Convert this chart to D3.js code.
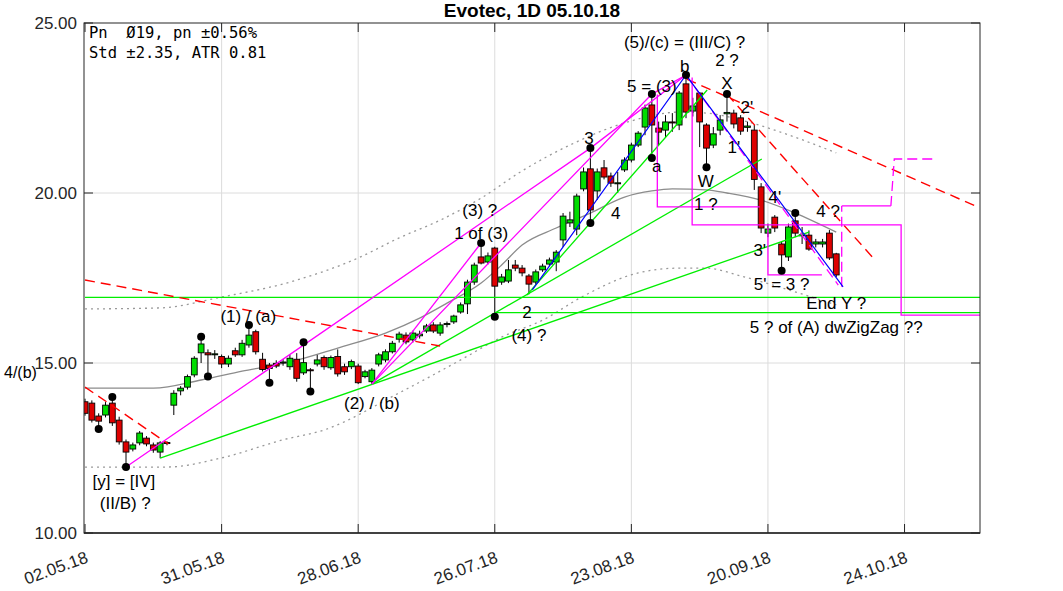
<!DOCTYPE html>
<html><head><meta charset="utf-8">
<script src="https://cdn.jsdelivr.net/npm/d3@7"></script>
<style>body{margin:0;background:#fff}</style>
</head><body><svg id="c" width="1063" height="591"></svg>
<script>
// ---------- data ----------
const title = "Evotec, 1D 05.10.18";
const infoLines = ["Pn  \u00D819, pn \u00B10.56%", "Std \u00B12.35, ATR 0.81"];
const tickIndex = [0, 20, 40, 60, 80, 100, 120];
const tickLabels = ["02.05.18", "31.05.18", "28.06.18", "26.07.18", "23.08.18", "20.09.18", "24.10.18"];
const yTicks = [10, 15, 20, 25];

const opens = [13.86,13.82,13.44,13.47,13.82,13.32,12.68,12.47,12.65,12.79,12.59,12.38,12.64,13.76,14.18,14.29,14.65,15.30,15.30,15.25,
15.19,14.97,15.36,15.24,15.53,15.92,15.11,14.94,14.99,15.00,14.89,15.11,14.71,14.80,14.97,15.16,14.86,15.19,14.89,14.89,
14.91,14.60,14.45,14.97,15.09,15.33,15.70,15.82,15.68,15.80,15.94,16.12,15.88,16.13,16.21,16.50,16.74,17.38,18.12,17.97,
18.38,17.38,17.41,17.88,17.79,17.56,17.38,17.74,17.91,17.97,18.62,19.12,18.94,20.12,20.71,20.06,20.74,20.50,20.28,20.68,
20.97,21.41,21.94,22.59,21.91,21.85,22.09,22.00,23.21,22.41,22.94,22.00,21.41,21.85,22.33,22.35,22.21,21.93,21.85,20.18,
18.82,19.29,18.50,18.12,19.18,18.75,18.76,18.50,18.50,18.82,18.21];
const highs = [13.95,13.90,13.52,13.85,14.00,13.42,12.75,12.66,13.00,12.85,12.66,12.70,12.70,14.20,14.32,14.66,15.20,15.77,15.40,15.38,
15.25,15.22,15.45,15.68,16.12,15.98,15.30,15.00,15.08,15.12,15.25,15.29,15.61,14.85,15.24,15.22,15.22,15.40,14.98,15.10,
14.98,14.80,14.85,15.30,15.40,15.65,15.92,15.90,15.95,15.95,16.15,16.20,16.20,16.22,16.42,16.78,17.45,17.95,18.53,18.25,
18.42,17.62,18.03,18.03,17.88,17.62,17.75,17.92,18.10,18.32,19.41,19.45,19.98,20.75,21.32,20.72,20.97,20.60,20.62,21.05,
21.48,21.82,22.60,22.91,22.10,22.29,22.35,23.00,23.47,22.80,22.97,22.05,21.94,22.29,22.91,22.45,22.29,22.10,22.00,20.29,
19.10,19.35,18.56,19.10,19.41,19.00,18.90,18.65,18.65,18.91,18.24];
const lows = [13.45,13.25,13.06,13.40,13.15,12.60,11.94,12.40,12.58,12.55,12.36,12.20,12.58,13.47,14.05,14.22,14.58,15.00,14.60,15.12,
14.85,14.88,15.18,15.18,15.45,15.25,14.75,14.42,14.85,14.92,14.80,14.45,14.65,14.16,14.90,14.80,14.80,14.60,14.65,14.82,
14.38,14.55,14.38,14.90,15.02,15.28,15.60,15.55,15.60,15.72,15.88,15.88,15.80,16.05,16.15,16.45,16.44,17.30,17.90,17.90,
16.36,17.30,17.35,17.70,17.55,17.02,17.30,17.68,17.85,17.70,18.41,19.00,18.76,20.05,19.12,19.80,20.40,20.18,20.00,20.62,
20.90,21.35,21.70,21.03,21.41,21.62,21.80,21.85,22.20,22.25,21.35,20.76,21.32,21.70,22.10,21.90,21.71,21.80,20.09,18.82,
18.70,18.85,17.71,18.00,18.70,18.50,18.30,18.40,18.40,18.03,17.53];
const closes = [13.52,13.32,13.29,13.76,13.24,12.68,12.38,12.59,12.94,12.62,12.44,12.65,12.66,14.11,14.26,14.60,15.14,15.56,15.24,15.27,
14.97,15.14,15.24,15.58,15.82,15.33,14.81,14.84,14.91,15.03,15.14,14.55,15.01,14.78,15.09,14.89,15.16,14.68,14.74,15.04,
14.42,14.74,14.79,15.24,15.33,15.58,15.85,15.62,15.88,15.85,16.09,15.94,16.12,16.16,16.38,16.71,17.38,17.88,17.94,18.15,
17.26,17.53,17.74,17.79,17.65,17.32,17.68,17.85,18.03,18.26,19.32,19.21,19.91,20.62,19.50,20.62,20.47,20.29,20.30,20.97,
21.41,21.76,22.50,22.00,21.79,22.09,22.06,22.94,22.38,22.56,22.09,21.32,21.74,22.15,22.37,22.03,21.82,21.97,20.40,18.97,
18.94,18.97,18.18,19.00,18.82,18.77,18.35,18.56,18.56,18.09,17.59];

// moving average and envelope: [bar index, value]
const maLine = [[0,14.26],[10,14.26],[17,14.5],[23,14.76],[30,15.03],[37,15.44],[44,15.88],[49,16.32],[53,16.76],[58,17.35],[61,17.88],
[64,18.47],[69,18.97],[74,19.41],[79,19.88],[83,20.06],[86,20.12],[91,20.09],[94,20.0],[99,19.79],[104,19.41],[110,18.85]];
const upperBand = [[0,16.59],[11,16.62],[20,16.94],[30,17.38],[40,18.09],[46,18.68],[52,19.2],[58,19.85],[64,20.65],[71,21.41],
[80,22.12],[87,22.38],[91,22.35],[96,22.15],[103,21.71],[110,21.18]];
const lowerBand = [[0,11.94],[12,11.94],[20,12.21],[29,12.74],[35,13.03],[46,14.12],[55,15.09],[61,15.76],[67,16.26],[73,16.97],
[81,17.65],[87,17.79],[91,17.79],[96,17.56],[103,17.15],[110,16.71]];

// wave lines [bar index, value]
const magentaLines = [
  [[6,11.94],[74,21.32],[88,23.47]],
  [[42,14.38],[83,22.91],[88,23.47]],
  [[42,14.38],[58,18.53]],
  [[83.8,22.9],[83.8,19.59],[98.8,19.59]],
  [[88.9,23.4],[88.9,19.06],[119.5,19.06],[119.5,16.41],[131.2,16.41]],
  [[100,18.97],[100,17.59],[107.9,17.59]],
  [[110.8,19.62],[118,19.62]]
];
const magentaDashed = [
  [[88,23.47],[110.3,17.29]],
  [[110.8,17.24],[110.8,19.62]],
  [[118,19.62],[118.5,21.0],[124.2,21.0]]
];
const blueLine = [[65.5,17.15],[88,23.47],[111,17.24]];
const greenLines = [
  [[11,12.2],[106,18.85]],
  [[42,14.38],[99.1,21.0]],
  [[64.7,17.0],[91.1,23.03]]
];
const greenLevels = [[0,16.93],[60,16.48]];
const redDashed = [
  [[0,17.44],[52,15.5]],
  [[0,14.29],[12.2,12.62]],
  [[88.1,23.35],[130.7,19.59]],
  [[94,22.91],[115.4,18.09]]
];
const pivots = [[4,14.0],[2,13.06],[6,11.94],[17,15.77],[18,14.6],[24,16.12],[27,14.42],[32,15.61],[33,14.16],
[58,18.53],[60,16.36],[74,21.32],[74,19.12],[83,22.91],[83,21.03],[88,23.47],[91,20.76],[94,22.91],[102,17.71],[104,19.41]];
const labels = [
  ["[y] = [IV]",5.7,11.53],["(II/B) ?",5.9,10.88],["(1) / (a)",23.9,16.38],["(2) / (b)",42.0,13.82],
  ["(3) ?",57.8,19.5],["1 of (3)",58.0,18.82],["2",64.7,16.5],["(4) ?",65.0,15.82],["3",73.8,21.62],
  ["4",77.7,19.41],["a",83.7,20.79],["5 = (3)",83.0,23.15],["b",87.8,23.74],["(5)/(c) = (III/C) ?",87.8,24.44],
  ["2 ?",94.0,23.91],["X",94.0,23.24],["2'",96.9,22.53],["1'",95.0,21.35],["W",90.9,20.35],["1 ?",90.9,19.68],
  ["4'",101.0,19.88],["3'",98.8,18.32],["4 ?",108.8,19.47],["5' = 3 ?",102.0,17.32],["End Y ?",110.0,16.76],
  ["5 ? of (A) dwZigZag ??",110.0,16.06]
];
const sideLabel = ["4/(b)", 14.72];

// ---------- drawing ----------
const svg = d3.select("#c");
const L = 84, R = 980, T = 23, B = 533;
const x = d3.scaleLinear().domain([-0.15, 131.05]).range([L, R]);
const y = d3.scaleLinear().domain([10, 25]).range([B, T]);
const font = "'Liberation Sans', Arial, sans-serif";

svg.append("defs").append("clipPath").attr("id","clip")
  .append("rect").attr("x",L).attr("y",T).attr("width",R-L).attr("height",B-T);

// grid
const grid = svg.append("g");
grid.selectAll("line.v").data(tickIndex.slice(1)).join("line")
  .attr("x1",d=>x(d)).attr("x2",d=>x(d)).attr("y1",T).attr("y2",B)
  .attr("stroke","#dcdcdc").attr("stroke-width",1);
grid.selectAll("line.h").data([15,20]).join("line")
  .attr("x1",L).attr("x2",R).attr("y1",d=>y(d)).attr("y2",d=>y(d))
  .attr("stroke","#dcdcdc").attr("stroke-width",1);

const plot = svg.append("g").attr("clip-path","url(#clip)");
const line = d3.line().x(d=>x(d[0])).y(d=>y(d[1]));
const smooth = d3.line().x(d=>x(d[0])).y(d=>y(d[1])).curve(d3.curveMonotoneX);

// bands & MA
[upperBand, lowerBand].forEach(b=>plot.append("path").attr("d",smooth(b)).attr("fill","none")
  .attr("stroke","#999").attr("stroke-width",1.3).attr("stroke-dasharray","2,4"));
plot.append("path").attr("d",smooth(maLine)).attr("fill","none").attr("stroke","#8c8c8c").attr("stroke-width",1.3);

// candles
const idx = d3.range(opens.length);
const cg = plot.append("g");
cg.selectAll("line.w").data(idx).join("line")
  .attr("x1",i=>x(i)).attr("x2",i=>x(i)).attr("y1",i=>y(highs[i])).attr("y2",i=>y(lows[i]))
  .attr("stroke","#000").attr("stroke-width",1);
cg.selectAll("rect").data(idx).join("rect")
  .attr("x",i=>x(i)-2.9).attr("width",5.8)
  .attr("y",i=>y(Math.max(opens[i],closes[i])))
  .attr("height",i=>Math.max(1,Math.abs(y(opens[i])-y(closes[i]))))
  .attr("fill",i=>closes[i]>=opens[i]?"#00dd00":"#dd0000")
  .attr("stroke","#000").attr("stroke-width",0.9);

// levels and trend lines
greenLevels.forEach(g=>plot.append("path").attr("d",line([[g[0],g[1]],[131.2,g[1]]]))
  .attr("fill","none").attr("stroke","#00ee00").attr("stroke-width",1.3));
greenLines.forEach(g=>plot.append("path").attr("d",line(g)).attr("fill","none")
  .attr("stroke","#00ee00").attr("stroke-width",1.3));
redDashed.forEach(g=>plot.append("path").attr("d",line(g)).attr("fill","none")
  .attr("stroke","#ff0000").attr("stroke-width",1.4).attr("stroke-dasharray","10,6"));
magentaLines.forEach(g=>plot.append("path").attr("d",line(g)).attr("fill","none")
  .attr("stroke","#ff00ff").attr("stroke-width",1.3));
magentaDashed.forEach(g=>plot.append("path").attr("d",line(g)).attr("fill","none")
  .attr("stroke","#ff00ff").attr("stroke-width",1.3).attr("stroke-dasharray","10,5"));
plot.append("path").attr("d",line(blueLine)).attr("fill","none").attr("stroke","#0000ff").attr("stroke-width",1.2);

// pivots
plot.selectAll("circle").data(pivots).join("circle")
  .attr("cx",d=>x(d[0])).attr("cy",d=>y(d[1])).attr("r",4).attr("fill","#000");

// frame & ticks
svg.append("rect").attr("x",L).attr("y",T).attr("width",R-L).attr("height",B-T)
  .attr("fill","none").attr("stroke","#262626").attr("stroke-width",1);
svg.append("line").attr("x1",L).attr("x2",R).attr("y1",B).attr("y2",B).attr("stroke","#262626").attr("stroke-width",1.5);
const tk = svg.append("g");
tickIndex.forEach(t=>{
  tk.append("line").attr("x1",x(t)).attr("x2",x(t)).attr("y1",B).attr("y2",B-9).attr("stroke","#262626");
  tk.append("line").attr("x1",x(t)).attr("x2",x(t)).attr("y1",T).attr("y2",T+9).attr("stroke","#262626");
});
yTicks.forEach(t=>{
  tk.append("line").attr("x1",L).attr("x2",L+9).attr("y1",y(t)).attr("y2",y(t)).attr("stroke","#262626");
  tk.append("line").attr("x1",R).attr("x2",R-9).attr("y1",y(t)).attr("y2",y(t)).attr("stroke","#262626");
});

// axis labels
svg.append("g").selectAll("text").data(yTicks).join("text")
  .attr("x",L-7).attr("y",d=>y(d)).attr("dy","0.35em").attr("text-anchor","end")
  .attr("font-family",font).attr("font-size",17).attr("fill","#262626").text(d=>d.toFixed(2));
svg.append("g").selectAll("text").data(tickIndex).join("text")
  .attr("transform",(d)=>`translate(${x(d)+4},${B+29}) rotate(-20)`)
  .attr("text-anchor","end").attr("font-family",font).attr("font-size",17).attr("fill","#262626")
  .text((d,i)=>tickLabels[i]);

// title
svg.append("text").attr("x",(L+R)/2).attr("y",17).attr("text-anchor","middle")
  .attr("font-family",font).attr("font-weight","bold").attr("font-size",19).attr("fill","#000").text(title);

// info box
svg.append("g").selectAll("text").data(infoLines).join("text")
  .attr("x",89).attr("y",(d,i)=>38+i*20).attr("font-family","'DejaVu Sans Mono', monospace")
  .attr("font-size",15.5).attr("fill","#000").style("white-space","pre").text(d=>d);

// annotations
svg.append("g").selectAll("text").data(labels).join("text")
  .attr("x",d=>x(d[1])).attr("y",d=>y(d[2])).attr("dy","0.36em").attr("text-anchor","middle")
  .attr("font-family",font).attr("font-size",17).attr("fill","#000").text(d=>d[0]);
svg.append("text").attr("x",4).attr("y",y(sideLabel[1])).attr("dy","0.36em")
  .attr("font-family",font).attr("font-size",16).attr("fill","#000").text(sideLabel[0]);
</script>
</body></html>
